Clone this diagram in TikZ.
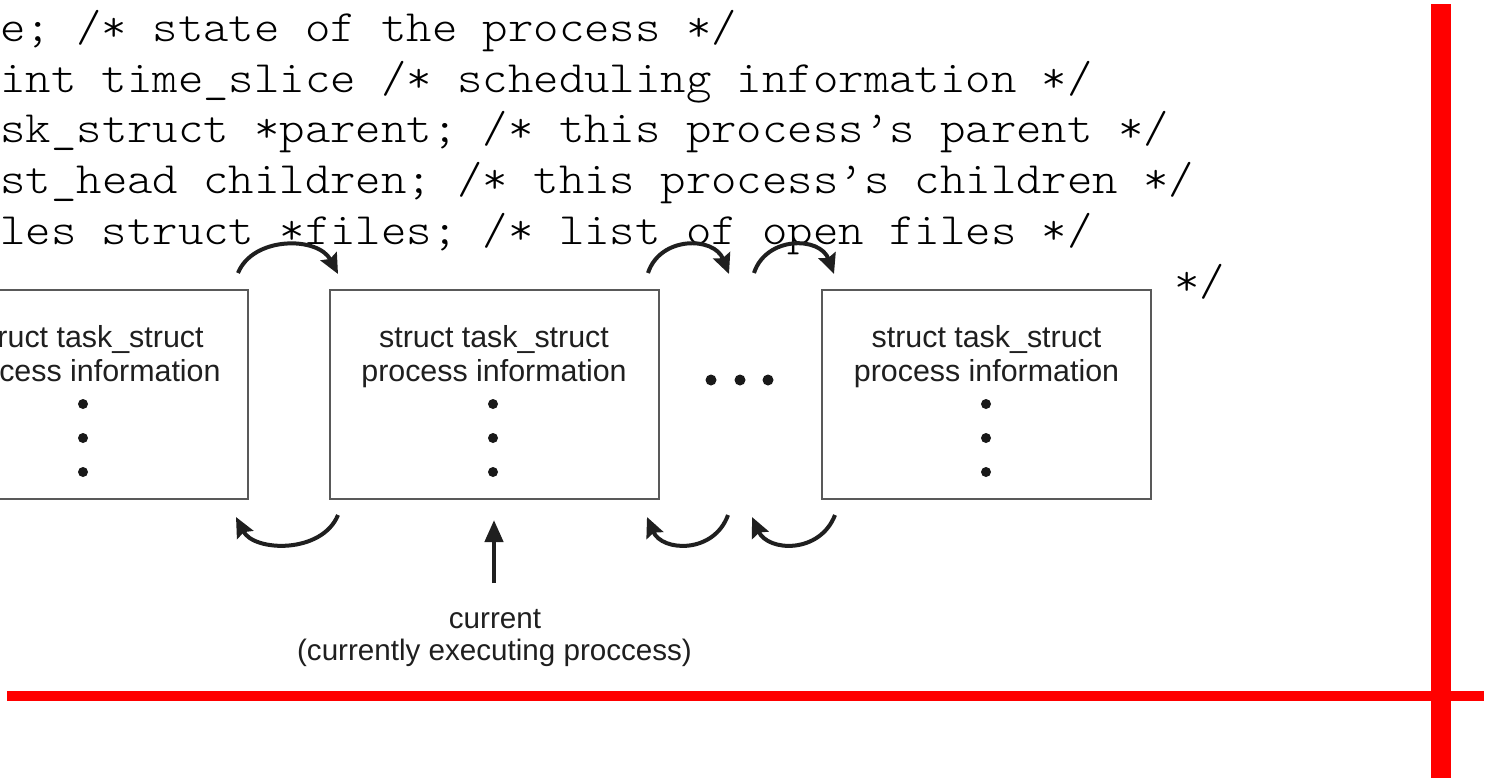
\documentclass[tikz,border=0pt]{standalone}
\usepackage{fontspec}
\newfontfamily\codefont[FakeStretch=1.08]{lmmonolt10-regular.otf}
\newfontfamily\boxfont{Liberation Sans}
\usetikzlibrary{arrows.meta}
\begin{document}
\begin{tikzpicture}[x=0.5pt,y=-0.5pt,
  code/.style={anchor=base west,inner sep=0pt,font=\codefont\fontsize{22.4pt}{26pt}\selectfont},
  taskbox/.style={draw=black!65,line width=0.75pt,minimum width=164.5pt,minimum height=104.5pt,inner sep=0pt},
  boxtext/.style={inner sep=0pt,anchor=base,font=\boxfont\fontsize{15.2pt}{16.5pt}\selectfont,text=black!88},
  labeltext/.style={inner sep=0pt,anchor=base,font=\boxfont\fontsize{14.8pt}{16pt}\selectfont,text=black!88},
  link/.style={line width=2pt,draw=black!88,-{Stealth[length=10pt,width=9pt,inset=1.5pt]}},
  uplink/.style={line width=2.2pt,draw=black!88,-{Triangle[length=11pt,width=9pt]}},
  dot/.style={circle,fill=black!90,inner sep=0pt,minimum size=5pt},
  redbar/.style={fill=red,draw=none}
]
\clip (0,0) rectangle (1489,778);
\fill[white] (0,0) rectangle (1489,778);

% code lines
\node[code] (l1) at (0,41) {e; /* state of the process */};
\node[code] (l2) at (0,92) {int time\_slice /* scheduling information */};
\node[code] (l3) at (0,142) {sk\_struct *parent; /* this process’s parent */};
\node[code] (l4) at (0,193) {st\_head children; /* this process’s children */};
\node[code] (l5) at (0,244) {les struct *files; /* list of open files */};
\node[code] (l6) at (1174,295) {*/};

% boxes
\node[taskbox] (b1) at (83.5,394.5) {};
\node[taskbox] (b2) at (494.5,394.5) {};
\node[taskbox] (b3) at (986.5,394.5) {};

% box texts
\node[boxtext,anchor=base east] (t1a) at (204,347) {ruct task\_struct};
\node[boxtext,anchor=base east] (t1b) at (221,381) {cess information};
\node[boxtext] (t2a) at (494,347) {struct task\_struct};
\node[boxtext] (t2b) at (494,381) {process information};
\node[boxtext] (t3a) at (986.5,347) {struct task\_struct};
\node[boxtext] (t3b) at (986.5,381) {process information};

% dots in boxes
\foreach \bx/\nm in {83/a,493/b,986/c}{
  \node[dot] (d\nm1) at (\bx,404) {};
  \node[dot] (d\nm2) at (\bx,438) {};
  \node[dot] (d\nm3) at (\bx,472) {};
}
% ellipsis between boxes
\node[dot,minimum size=5.5pt] (e1) at (711,380) {};
\node[dot,minimum size=5.5pt] (e2) at (740,380) {};
\node[dot,minimum size=5.5pt] (e3) at (768,380) {};

% arc end points
\coordinate (a1s) at (238,273);
\coordinate (a1e) at (338,274);
\coordinate (a2s) at (648,273);
\coordinate (a2e) at (729,274);
\coordinate (a3s) at (754,273);
\coordinate (a3e) at (834,274);
\coordinate (r1s) at (338,515);
\coordinate (r1e) at (236,517);
\coordinate (r2s) at (728,515);
\coordinate (r2e) at (647,517);
\coordinate (r3s) at (835,515);
\coordinate (r3e) at (752,517);

% forward arcs (top)
\draw[link] (a1s) .. controls (253,236) and (318,236) .. (a1e);
\draw[link] (a2s) .. controls (660,236) and (714,236) .. (a2e);
\draw[link] (a3s) .. controls (766,236) and (820,236) .. (a3e);
% backward arcs (bottom)
\draw[link] (r1s) .. controls (322,554) and (254,552) .. (r1e);
\draw[link] (r2s) .. controls (714,554) and (662,552) .. (r2e);
\draw[link] (r3s) .. controls (820,554) and (768,552) .. (r3e);

% current label and arrow
\node[labeltext] (cur) at (495,628) {current};
\node[labeltext] (cur2) at (494.5,660) {(currently executing proccess)};
\coordinate (curtail) at (494,583);
\coordinate (curtip) at (494,520);
\draw[uplink] (curtail) -- (curtip);

% red bars
\fill[redbar] (7,691) rectangle (1484,701);
\fill[redbar] (1431,4) rectangle (1451,778);
\end{tikzpicture}
\end{document}
